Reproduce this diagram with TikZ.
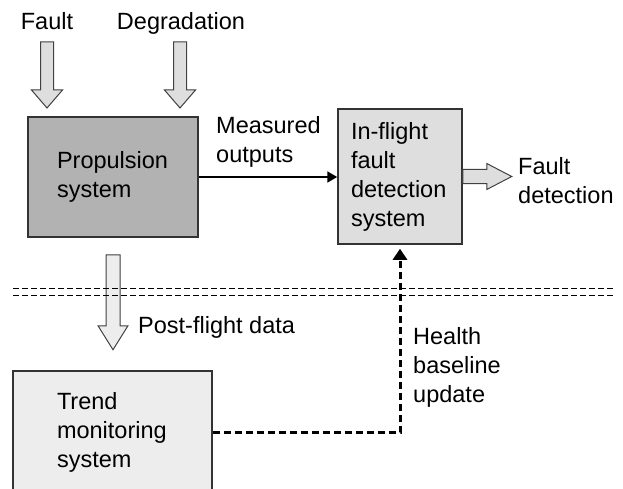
\documentclass[tikz,border=0pt]{standalone}
\usepackage{fontspec}
\setmainfont{Liberation Sans}
\usetikzlibrary{arrows.meta, positioning, calc}

% fat hollow arrow: fill, start, angle, length, head length, half shaft, half head
\newcommand{\blockarrow}[7]{%
\filldraw [blockarr, fill=#1, shift={#2}, rotate=#3] (0,-#6) -- ({#4-#5},-#6) -- ({#4-#5},-#7) -- (#4,0) -- ({#4-#5},#7) -- ({#4-#5},#6) -- (0,#6) -- cycle;}

\begin{document}
\begin{tikzpicture}[x=1pt, y=-1pt,
  every node/.style={font=\fontsize{23.5}{29}\selectfont},
  box/.style={draw=black!80, line width=1.5pt, inner sep=0pt, align=left},
  lbl/.style={inner sep=0pt, align=left},
  blockarr/.style={draw=black!75, line width=1pt}]
\useasboundingbox (0,0) rectangle (623,489);
\clip (0,0) rectangle (623,489);

% inputs
\node [lbl, anchor=base] (fault) at (47,30) {Fault};
\node [lbl, anchor=base] (degr) at (181,30) {Degradation};

% systems
\node [box, fill=black!30, minimum width=170pt, minimum height=120pt, text width=112pt] (prop) at (113,177) {Propulsion\\system};
\node [box, fill=black!13, minimum width=124pt, minimum height=135pt, text width=98pt] (inflight) at (400,176.5) {In-flight\\fault\\detection\\system};
\node [box, fill=black!7, minimum width=199pt, minimum height=123pt, text width=111pt] (trend) at (112.5,432.5) {Trend\\monitoring\\system};

% labels
\node [lbl, anchor=west] (measured) at (216,141.5) {Measured\\outputs};
\node [lbl, anchor=west] (detect) at (518,181) {Fault\\detection};
\node [lbl, anchor=west] (postflight) at (138,327) {Post-flight data};
\node [lbl, anchor=west] (health) at (413,367) {Health\\baseline\\update};

\blockarrow{black!13}{($(fault.base)+(0,12)$)}{-90}{66}{18}{6.5}{15.5}
\blockarrow{black!13}{($(degr.base)+(-1,12)$)}{-90}{66}{18}{6.5}{15.5}
\blockarrow{black!13}{(inflight.east)}{0}{49}{25}{7}{13}
\blockarrow{black!7}{($(prop.south)+(0,17)$)}{-90}{95}{24}{7}{15}

% flight / ground
\draw [black, line width=1pt, dash pattern=on 6pt off 3pt] (13,288) -- (615,288);
\draw [black, line width=1pt, dash pattern=on 6pt off 3pt] (13,295) -- (615,295);

\draw [line width=2pt, -{Triangle[length=10pt, width=11pt]}] (prop.east) -- (prop.east -| inflight.west);
\draw [line width=3pt, dash pattern=on 7pt off 4pt, -{Triangle[length=11pt, width=14pt]}, shorten >=4pt] (trend.east) -| (inflight.south);
\end{tikzpicture}
\end{document}
